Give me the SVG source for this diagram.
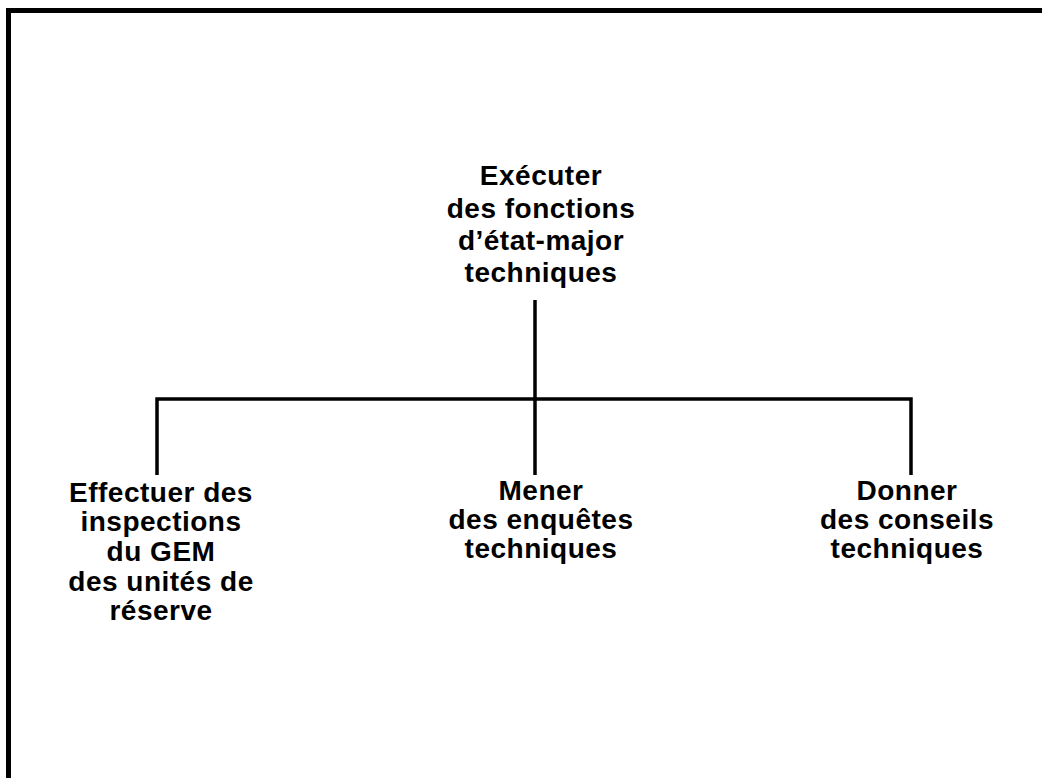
<svg xmlns="http://www.w3.org/2000/svg" width="1042" height="778" viewBox="0 0 1042 778">
<style>
.t{font-family:"Liberation Sans",Arial,sans-serif;font-weight:bold;font-size:28px;fill:#000;text-anchor:middle;letter-spacing:0.5px}
.c{stroke:#000;stroke-width:3.5;fill:none}
</style>
<rect width="1042" height="778" fill="#fff"/>
<path d="M8.5 778 V10.5 H1042" stroke="#000" stroke-width="5" fill="none"/>
<g id="connectors">
<path class="c" d="M535 300 V475"/>
<path class="c" d="M157 475 V399 H911 V475"/>
</g>
<g id="root">
<text class="t" x="541" y="185">Exécuter</text>
<text class="t" x="541" y="218">des fonctions</text>
<text class="t" x="541" y="250">d’état-major</text>
<text class="t" x="541" y="282">techniques</text>
</g>
<g id="inspections">
<text class="t" x="161" y="502">Effectuer des</text>
<text class="t" x="161" y="531">inspections</text>
<text class="t" x="161" y="561">du GEM</text>
<text class="t" x="161" y="591">des unités de</text>
<text class="t" x="161" y="620">réserve</text>
</g>
<g id="enquetes">
<text class="t" x="541" y="500">Mener</text>
<text class="t" x="541" y="529">des enquêtes</text>
<text class="t" x="541" y="558">techniques</text>
</g>
<g id="conseils">
<text class="t" x="907" y="500">Donner</text>
<text class="t" x="907" y="529">des conseils</text>
<text class="t" x="907" y="558">techniques</text>
</g>
</svg>
